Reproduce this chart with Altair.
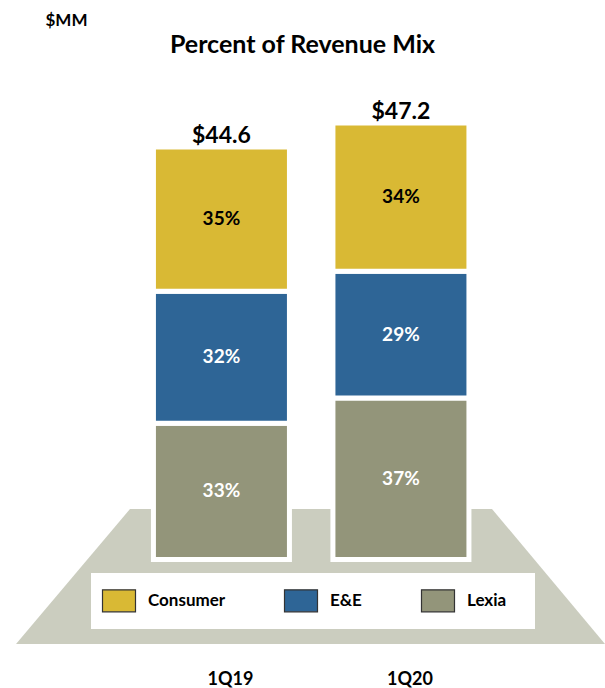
import altair as alt
import pandas as pd

# ---- data ----
quarters = ["1Q19", "1Q20"]
totals = [44.6, 47.2]                      # $MM
segments = ["Lexia", "E&E", "Consumer"]    # bottom -> top
pct_1q19 = [33, 32, 35]
pct_1q20 = [37, 29, 34]

legend_order = ["Consumer", "E&E", "Lexia"]
seg_colors = ["#D9B934", "#2E6596", "#93957A"]

# ---- tables built from the arrays ----
rows = []
for q, tot, pcts in zip(quarters, totals, [pct_1q19, pct_1q20]):
    for i, (s, p) in enumerate(zip(segments, pcts)):
        rows.append({"quarter": q, "segment": s, "order": i, "pct": p,
                     "value": tot * p / 100.0, "label": f"{p}%"})
df = pd.DataFrame(rows)
tot_df = pd.DataFrame({"quarter": quarters, "total": totals,
                       "label": [f"${t:.1f}" for t in totals]})

# decorative platform (trapezoid) and legend panel, in canvas pixel units
plat_x = [16, 130, 492, 605]
plat_top = [644, 509, 509, 644]
plat_bottom = [644, 644, 644, 644]
panel = {"x": [91], "x2": [535], "y": [573], "y2": [629]}

FONT = "Lato"
W, H = 605, 592
PAD_TOP, PAD_BOTTOM = 70, 26

x_scale = alt.Scale(paddingInner=0.2423, paddingOuter=0.8064, align=0.53)
y_scale = alt.Scale(domain=[-11.08, 52.92], nice=False, zero=False)
x_axis = alt.Axis(orient="bottom", title=None, ticks=False, domain=False, grid=False,
                  labelAngle=0, labelFont=FONT, labelFontSize=18, labelFontWeight="bold",
                  labelColor="black", labelPadding=8, labelOffset=9)
y_axis = alt.Axis(orient="left", title="$MM", labels=False, ticks=False, domain=False,
                  grid=False, titleAngle=0, titleX=45, titleY=-50, titleAlign="left",
                  titleBaseline="middle", titleFont=FONT, titleFontSize=17,
                  titleFontWeight="bold", titleColor="black")


def xenc():
    return alt.X("quarter:N", sort=quarters, scale=x_scale, axis=x_axis)


bars = alt.Chart(df).mark_bar(stroke="white", strokeWidth=5).encode(
    x=xenc(),
    y=alt.Y("value:Q", stack="zero", scale=y_scale, axis=y_axis),
    color=alt.Color("segment:N", scale=alt.Scale(domain=legend_order, range=seg_colors),
                    legend=alt.Legend(title=None, orient="none", legendX=101.5, legendY=518.5,
                                      direction="horizontal", symbolType="M-1,-1H2V1H-1Z",
                                      symbolSize=484, symbolStrokeColor="#333333",
                                      symbolStrokeWidth=1.2, symbolOpacity=1,
                                      labelFont=FONT, labelFontSize=17, labelFontWeight="bold",
                                      labelColor="black", labelOffset=22.5, columnPadding=56,
                                      padding=0)),
    order=alt.Order("order:Q"),
)

pct_text = alt.Chart(df).transform_stack(
    stack="value", as_=["y0", "y1"], groupby=["quarter"],
    sort=[alt.SortField("order", order="ascending")]
).transform_calculate(mid="(datum.y0 + datum.y1) / 2").mark_text(
    font=FONT, fontSize=19, fontWeight="bold", baseline="middle", align="center"
).encode(
    x=xenc(),
    y=alt.Y("mid:Q", scale=y_scale, axis=y_axis),
    text="label:N",
    color=alt.condition(alt.datum.segment == "Consumer", alt.value("black"), alt.value("white")),
)

tot_text = alt.Chart(tot_df).mark_text(
    font=FONT, fontSize=23, fontWeight="bold", baseline="alphabetic", align="center",
    dy=-4, color="black"
).encode(
    x=xenc(),
    y=alt.Y("total:Q", scale=y_scale, axis=y_axis),
    text="label:N",
)

dx = alt.Scale(domain=[0, W], nice=False, zero=False)
dy = alt.Scale(domain=[PAD_TOP + H, PAD_TOP], nice=False, zero=False)

plat_df = pd.DataFrame({"px": plat_x, "top": plat_top, "bottom": plat_bottom})
platform = alt.Chart(plat_df).mark_area(color="#CBCDBF", opacity=1).encode(
    x=alt.X("px:Q", scale=dx, axis=None),
    y=alt.Y("top:Q", scale=dy, axis=None),
    y2="bottom:Q",
)
panel_rect = alt.Chart(pd.DataFrame(panel)).mark_rect(color="white", opacity=1).encode(
    x=alt.X("x:Q", scale=dx, axis=None), x2="x2:Q",
    y=alt.Y("y:Q", scale=dy, axis=None), y2="y2:Q",
)

deco = alt.layer(platform, panel_rect)
main = alt.layer(bars, pct_text, tot_text)

chart = alt.layer(deco, main).resolve_scale(x="independent", y="independent").properties(
    width=W, height=H,
    padding={"top": PAD_TOP, "left": 0, "right": 0, "bottom": PAD_BOTTOM},
    autosize=alt.AutoSizeParams(type="none"),
    background="white",
    title=alt.Title("Percent of Revenue Mix", font=FONT, fontSize=25, fontWeight="bold",
                    color="black", anchor="middle", frame="group", baseline="alphabetic",
                    offset=17, dy=84),
).configure_view(stroke=None)

chart.save("out.html", embed_options={"renderer": "svg", "actions": False})
